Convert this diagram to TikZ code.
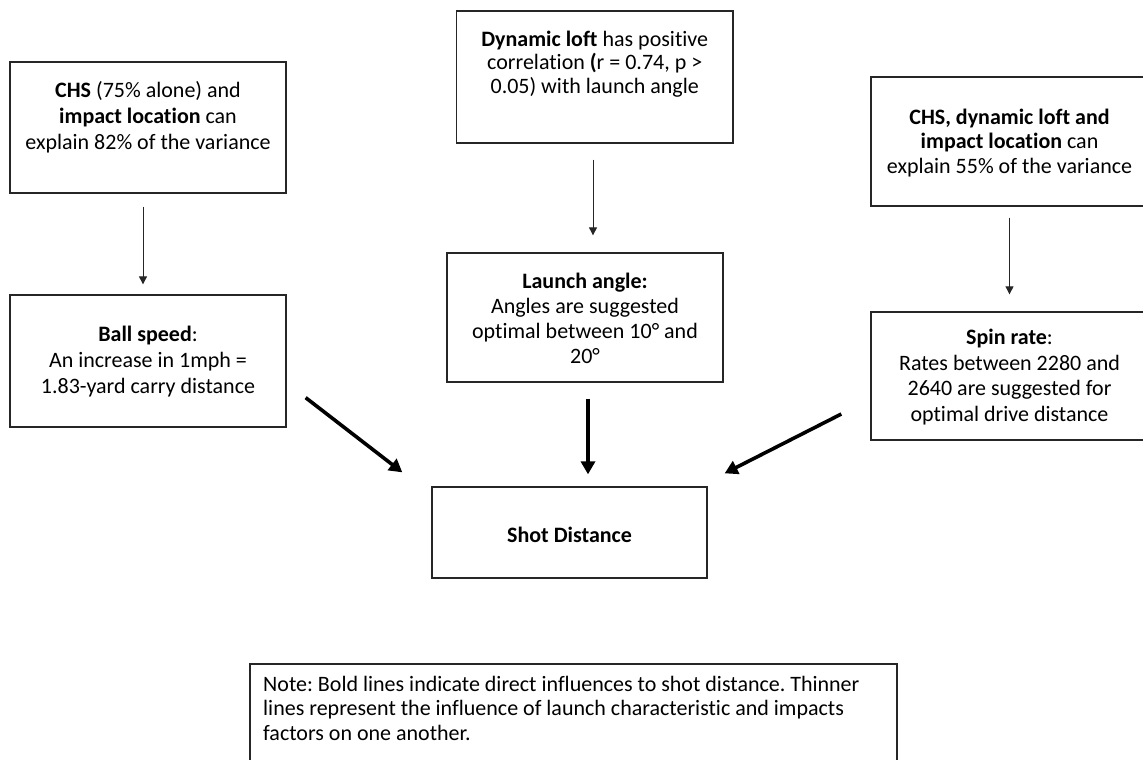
\documentclass[tikz,border=0pt]{standalone}
\usepackage{fontspec}
\setmainfont{Carlito}[Ligatures=NoCommon]
\usetikzlibrary{arrows.meta}
\frenchspacing
\begin{document}
\begin{tikzpicture}[x=1pt,y=-1pt,
  box/.style={draw=black!85,line width=1.3pt,rectangle,inner sep=0pt},
  txt/.style={align=center,inner sep=0pt,font=\fontsize{22}{26}\selectfont},
  thinarr/.style={draw=black!85,line width=0.9pt,-{Triangle[width=8pt,length=8pt]}},
  boldarr/.style={draw=black,line width=3.6pt,-{Triangle[width=14pt,length=13pt]}}]
\useasboundingbox (0,0) rectangle (1143,760);
\clip (0,0) rectangle (1143,760);
\fill[white] (0,0) rectangle (1143,760);
% boxes
\node[box,minimum width=276pt,minimum height=131pt] (b1) at (148,127.5) {};
\node[box,minimum width=276pt,minimum height=132pt] (b2) at (148,361) {};
\node[box,minimum width=276.5pt,minimum height=132pt] (b3) at (594.75,77) {};
\node[box,minimum width=276pt,minimum height=129pt] (b4) at (585,317.5) {};
\node[box,minimum width=275pt,minimum height=91pt] (b5) at (569.5,532.5) {};
\node[box,minimum width=277pt,minimum height=129pt] (b6) at (1009.5,141.5) {};
\node[box,minimum width=277pt,minimum height=128pt] (b7) at (1009.5,376) {};
\node[box,minimum width=647pt,minimum height=140pt] (b8) at (573.5,734) {};
% texts
\node[txt] (t1) at (148,117) {\textbf{CHS} (75\% alone) and\\\textbf{impact location} can\\explain 82\% of the variance};
\node[txt] (t2) at (148,362) {\textbf{Ball speed}:\\An increase in 1mph =\\1.83-yard carry distance};
\node[txt,font=\fontsize{22}{23.5}\selectfont] (t3) at (594.75,64) {\textbf{Dynamic loft} has positive\\correlation \textbf{(}r = 0.74, p >\\0.05) with launch angle};
\node[txt,font=\fontsize{22}{25}\selectfont] (t4) at (585,318.5) {\textbf{Launch angle:}\\Angles are suggested\\optimal between 10° and\\20°};
\node[txt] (t5) at (569.5,535) {\textbf{Shot Distance}};
\node[txt,font=\fontsize{22}{24.5}\selectfont] (t6) at (1009.5,143) {\textbf{CHS, dynamic loft and}\\\textbf{impact location} can\\explain 55\% of the variance};
\node[txt,font=\fontsize{22}{25.5}\selectfont] (t7) at (1009.5,377) {\textbf{Spin rate}:\\Rates between 2280 and\\2640 are suggested for\\optimal drive distance};
\node[txt,align=left,anchor=north west,font=\fontsize{22}{24.5}\selectfont] (t8) at (263,676) {Note: Bold lines indicate direct influences to shot distance. Thinner\\lines represent the influence of launch characteristic and impacts\\factors on one another.};
% thin arrows
\draw[thinarr,shorten <=13pt,shorten >=10pt] ([xshift=-5pt]b1.south) -- ([xshift=-5pt]b2.north);
\draw[thinarr,shorten <=16pt,shorten >=17pt] ([xshift=-1.75pt]b3.south) -- ([xshift=-1.75pt]b3.south |- b4.north);
\draw[thinarr,shorten <=11pt,shorten >=17pt] (b6.south) -- (b7.north);
% bold arrows
\draw[boldarr] ([xshift=19pt,yshift=30pt]b2.south east) -- ([xshift=-29pt,yshift=14pt]b5.north west);
\draw[boldarr,shorten <=16pt,shorten >=12pt] ([xshift=3pt]b4.south) -- ([xshift=3pt]b4.south |- b5.north);
\draw[boldarr] ([xshift=-29pt,yshift=-38pt]b7.west) -- ([xshift=17pt,yshift=13pt]b5.north east);
\end{tikzpicture}
\end{document}
